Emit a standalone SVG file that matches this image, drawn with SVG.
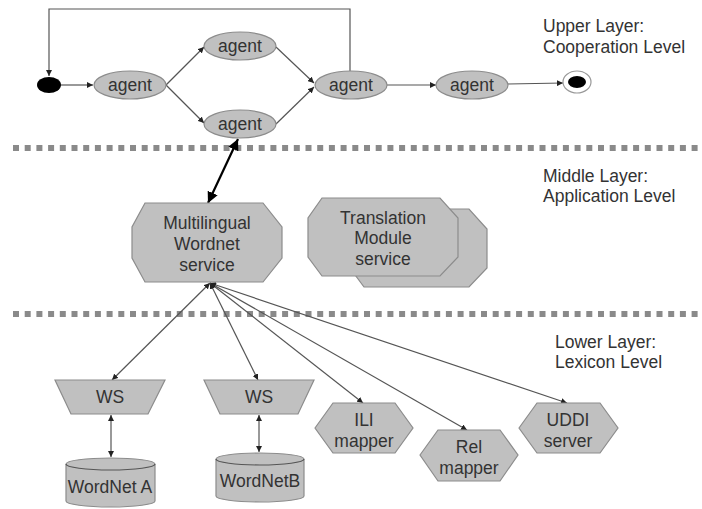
<svg xmlns="http://www.w3.org/2000/svg" width="702" height="509" viewBox="0 0 702 509">
<defs>
<marker id="ah" viewBox="0 0 10 10" refX="10" refY="5" markerWidth="6" markerHeight="6" markerUnits="userSpaceOnUse" orient="auto-start-reverse"><path d="M0,0 L10,5 L0,10 Z" fill="#222"/></marker>
<marker id="ahb" viewBox="0 0 10 10" refX="10" refY="5" markerWidth="11" markerHeight="11" markerUnits="userSpaceOnUse" orient="auto-start-reverse"><path d="M0,0 L10,5 L0,10 Z" fill="#000"/></marker>
</defs>
<style>
.t{font-family:"Liberation Sans",Arial,sans-serif;font-size:17.5px;fill:#333;text-anchor:middle}
.lbl{font-family:"Liberation Sans",Arial,sans-serif;font-size:17.5px;fill:#333}
.n{fill:#c0c0c0;stroke:#8c8c8c;stroke-width:1.2}
.e{fill:none;stroke:#555;stroke-width:1.2}
.sep{stroke:#8a8a8a;stroke-width:6;stroke-dasharray:6 5.7}
</style>
<rect width="702" height="509" fill="#fff"/>
<line class="sep" x1="13" y1="148" x2="700" y2="148"/>
<line class="sep" x1="13" y1="314" x2="700" y2="314"/>
<g id="labels">
<text class="lbl" x="543" y="32">Upper Layer:</text>
<text class="lbl" x="543" y="53">Cooperation Level</text>
<text class="lbl" x="543" y="182">Middle Layer:</text>
<text class="lbl" x="543" y="202">Application Level</text>
<text class="lbl" x="555" y="348">Lower Layer:</text>
<text class="lbl" x="555" y="368">Lexicon Level</text>
</g>
<g id="connectors">
<path class="e" d="M350,71 V9 H49 V76" marker-end="url(#ah)"/>
<path class="e" d="M61,85 H93" marker-end="url(#ah)"/>
<path class="e" d="M166,85 L204,47" marker-end="url(#ah)"/>
<path class="e" d="M166,85 L204,123" marker-end="url(#ah)"/>
<path class="e" d="M276,47 L314,83" marker-end="url(#ah)"/>
<path class="e" d="M276,124 L314,87" marker-end="url(#ah)"/>
<path class="e" d="M387,85 H436" marker-end="url(#ah)"/>
<path class="e" d="M508,84 L563,83" marker-end="url(#ah)"/>
<path d="M238,139 L208,203" stroke="#000" stroke-width="2.2" fill="none" marker-start="url(#ahb)" marker-end="url(#ahb)"/>
<path class="e" d="M210,283 L112,380" marker-start="url(#ah)" marker-end="url(#ah)"/>
<path class="e" d="M210,283 L258,380" marker-start="url(#ah)" marker-end="url(#ah)"/>
<path class="e" d="M210,283 L363,403" marker-start="url(#ah)" marker-end="url(#ah)"/>
<path class="e" d="M210,283 L467,430" marker-start="url(#ah)" marker-end="url(#ah)"/>
<path class="e" d="M210,283 L567,403" marker-start="url(#ah)" marker-end="url(#ah)"/>
<path class="e" d="M111,415 V457" marker-start="url(#ah)" marker-end="url(#ah)"/>
<path class="e" d="M259,415 V452" marker-start="url(#ah)" marker-end="url(#ah)"/>
</g>
<g id="start"><ellipse cx="49" cy="85" rx="12" ry="8" fill="#000"/></g>
<g id="agent1"><ellipse class="n" cx="130" cy="85" rx="36" ry="14"/><text class="t" x="130" y="91">agent</text></g>
<g id="agent2"><ellipse class="n" cx="240" cy="46" rx="36" ry="14"/><text class="t" x="240" y="52">agent</text></g>
<g id="agent3"><ellipse class="n" cx="240" cy="124" rx="36" ry="14"/><text class="t" x="240" y="130">agent</text></g>
<g id="agent4"><ellipse class="n" cx="351" cy="85" rx="36" ry="14"/><text class="t" x="351" y="91">agent</text></g>
<g id="agent5"><ellipse class="n" cx="472" cy="85" rx="36" ry="14"/><text class="t" x="472" y="91">agent</text></g>
<g id="end"><ellipse cx="577" cy="82" rx="14" ry="11" fill="#fff" stroke="#999" stroke-width="1.2"/><ellipse cx="577" cy="82" rx="9" ry="6" fill="#000"/></g>
<g id="multilingual">
<polygon class="n" points="145,203 263,203 282,227 282,258 263,282 145,282 132,258 132,227"/>
<text class="t" x="207" y="229">Multilingual</text>
<text class="t" x="207" y="250">Wordnet</text>
<text class="t" x="207" y="271">service</text>
</g>
<g id="translation">
<polygon class="n" points="364,209 469,209 487,229 487,268 469,287 364,287 350,268 350,229"/>
<polygon class="n" points="322,198 440,198 458,218 458,257 440,276 322,276 308,257 308,218"/>
<text class="t" x="383" y="224">Translation</text>
<text class="t" x="383" y="244">Module</text>
<text class="t" x="383" y="265">service</text>
</g>
<g id="ws1"><polygon class="n" points="55,380 165,380 148,414 71,414"/><text class="t" x="110" y="403">WS</text></g>
<g id="ws2"><polygon class="n" points="204,380 314,380 298,414 220,414"/><text class="t" x="259" y="403">WS</text></g>
<g id="wordnetA">
<path class="n" d="M66,464 A44.5,6 0 0,1 155,464 V501 A44.5,6 0 0,1 66,501 Z"/>
<path class="e" d="M66,464 A44.5,6 0 0,0 155,464" stroke="#8c8c8c"/>
<text class="t" x="110" y="493">WordNet A</text>
</g>
<g id="wordnetB">
<path class="n" d="M216,459 A44,6 0 0,1 304,459 V496 A44,6 0 0,1 216,496 Z"/>
<path class="e" d="M216,459 A44,6 0 0,0 304,459" stroke="#8c8c8c"/>
<text class="t" x="260" y="487">WordNetB</text>
</g>
<g id="ili"><polygon class="n" points="315,428 333,403 395,403 413,428 395,453 333,453"/><text class="t" x="364" y="426">ILI</text><text class="t" x="364" y="447">mapper</text></g>
<g id="rel"><polygon class="n" points="420,455 438,430 500,430 518,455 500,481 438,481"/><text class="t" x="469" y="453">Rel</text><text class="t" x="469" y="474">mapper</text></g>
<g id="uddi"><polygon class="n" points="519,428 537,403 600,403 618,428 600,453 537,453"/><text class="t" x="568" y="426">UDDI</text><text class="t" x="568" y="447">server</text></g>
</svg>
